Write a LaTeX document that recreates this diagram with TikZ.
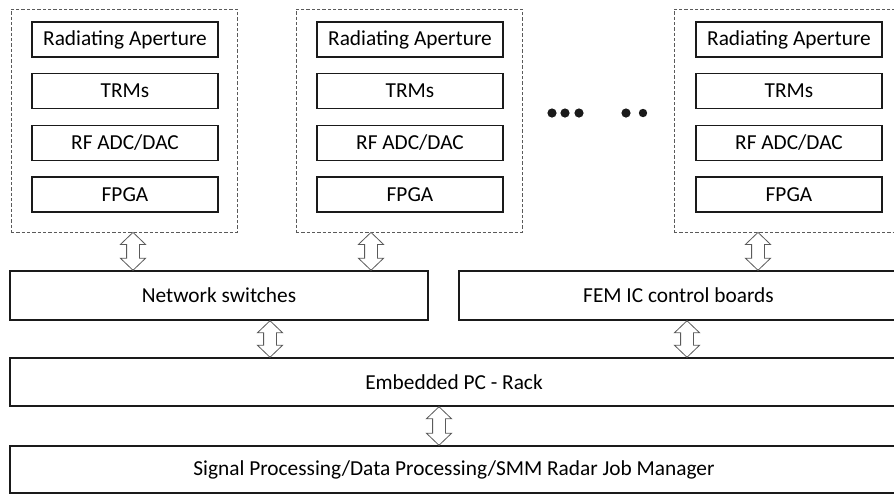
\documentclass[tikz,border=0pt]{standalone}
\usepackage{fontspec}
\setmainfont{Carlito}
\usetikzlibrary{calc}
\definecolor{ink}{HTML}{1A1A1A}
\definecolor{inkgray}{HTML}{5A5A5A}
\tikzset{
  unitbox/.style={draw=ink,line width=1.1pt,minimum width=139.5pt,
                  minimum height=26.25pt,inner sep=0pt,
                  font=\fontsize{16}{19}\selectfont},
  groupbox/.style={draw=inkgray,line width=0.6pt,
                   dash pattern=on 2.4pt off 1.6pt,minimum width=169.5pt,
                   minimum height=167.25pt,inner sep=0pt},
  barbox/.style={draw=ink,line width=1.1pt,inner sep=0pt,
                 font=\fontsize{16}{19}\selectfont},
  dblarr/.style={draw=inkgray,line width=0.6pt,fill=white,line join=miter},
  dot/.style={fill=ink}
}
% hollow up/down block arrow at x=#1 between two anchors
\newcommand{\dblarrow}[3]{%
  \draw[dblarr] let \p1=(#1,0), \p2=(#2), \p3=(#3) in
    (\x1,\y2) -- (\x1+9.4pt,\y2-9pt) -- (\x1+4.8pt,\y2-9pt)
    -- (\x1+4.8pt,\y3+9pt) -- (\x1+9.4pt,\y3+9pt) -- (\x1,\y3)
    -- (\x1-9.4pt,\y3+9pt) -- (\x1-4.8pt,\y3+9pt) -- (\x1-4.8pt,\y2-9pt)
    -- (\x1-9.4pt,\y2-9pt) -- cycle;}

\begin{document}
\begin{tikzpicture}[x=0.75pt,y=-0.75pt]
    \useasboundingbox (0,0) rectangle (894,494);
    \clip (0,0) rectangle (894,494);

    % front-end groups
    \node[groupbox] (g1) at (124,120.5) {};
    \node[groupbox] (g2) at (409,120.5) {};
    \node[groupbox] (g3) at (787,120.5) {};

    \node[unitbox] (ra1) at (125,39.5) {Radiating Aperture};
    \node[unitbox] (trm1) at (125,91) {TRMs};
    \node[unitbox] (adc1) at (125,143) {RF ADC/DAC};
    \node[unitbox] (fpga1) at (125,194.5) {FPGA};

    \node[unitbox] (ra2) at (410,39.5) {Radiating Aperture};
    \node[unitbox] (trm2) at (410,91) {TRMs};
    \node[unitbox] (adc2) at (410,143) {RF ADC/DAC};
    \node[unitbox] (fpga2) at (410,194.5) {FPGA};

    \node[unitbox] (ra3) at (789,39.5) {Radiating Aperture};
    \node[unitbox] (trm3) at (789,91) {TRMs};
    \node[unitbox] (adc3) at (789,143) {RF ADC/DAC};
    \node[unitbox] (fpga3) at (789,194.5) {FPGA};

    % ellipsis
    \fill[dot] (552,113) circle (4.6);
    \fill[dot] (565,113) circle (4.6);
    \fill[dot] (579,113) circle (4.6);
    \fill[dot] (626,113) circle (4.6);
    \fill[dot] (643,113) circle (4.2);

    % back-end
    \node[barbox,minimum width=313.5pt,minimum height=36.75pt] (net)
      at (219,295.5) {Network switches};
    \node[barbox,minimum width=329.25pt,minimum height=36.75pt] (fem)
      at (678.5,295.5) {FEM IC control boards};
    \node[barbox,minimum width=666pt,minimum height=36pt] (epc)
      at (454,382) {Embedded PC - Rack};
    \node[barbox,minimum width=666pt,minimum height=35.25pt] (sig)
      at (454,469.5) {Signal Processing/Data Processing/SMM Radar Job Manager};

    \dblarrow{133}{g1.south}{net.north}
    \dblarrow{371}{g2.south}{net.north}
    \dblarrow{758}{g3.south}{fem.north}
    \dblarrow{270}{net.south}{epc.north}
    \dblarrow{687}{fem.south}{epc.north}
    \dblarrow{439}{epc.south}{sig.north}
  \end{tikzpicture}
\end{document}
